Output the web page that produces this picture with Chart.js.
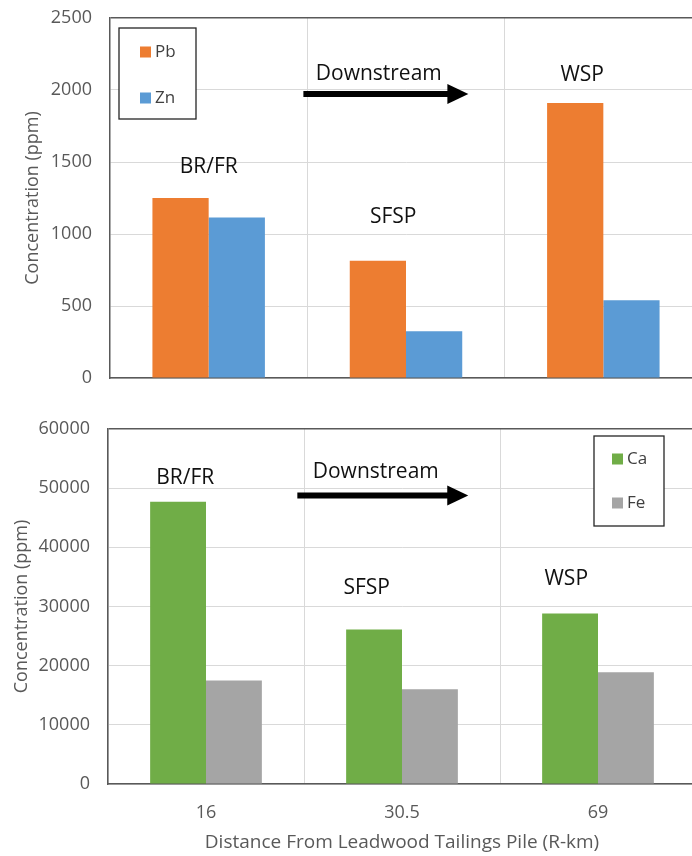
<!DOCTYPE html>
<html>
<head>
<meta charset="utf-8">
<script src="https://cdn.jsdelivr.net/npm/chart.js@4/dist/chart.umd.min.js"></script>
<style>
  html, body { margin: 0; padding: 0; background: #fff; overflow: hidden; width: 692px; height: 856px; }
  .wrap { position: absolute; left: 0; }
</style>
</head>
<body>
<div class="wrap" style="top:0"><canvas id="topChart" width="720" height="390"></canvas></div>
<div class="wrap" style="top:390px"><canvas id="bottomChart" width="720" height="466"></canvas></div>
<script>
// data
const distances = ['16', '30.5', '69'];
const pb = [1250, 815, 1910];
const zn = [1115, 325, 540];
const ca = [47700, 26100, 28800];
const fe = [17500, 16000, 18900];

const FONT = "'Open Sans', sans-serif";
const AXIS_COLOR = '#595959';
const GRID_COLOR = '#d9d9d9';

// text notes, placed in data units (x = category index)
const topNotes = [
    { text: 'BR/FR', x: 0.0, y: 1465 },
    { text: 'SFSP', x: 0.935, y: 1118 },
    { text: 'WSP', x: 1.893, y: 2104 },
    { text: 'Downstream', x: 0.862, y: 2111 }
];
const topArrow = { x1: 0.48, x2: 1.316, y: 1972 };

const bottomNotes = [
    { text: 'BR/FR', x: -0.106, y: 51640 },
    { text: 'Downstream', x: 0.866, y: 52660 },
    { text: 'SFSP', x: 0.82, y: 33170 },
    { text: 'WSP', x: 1.838, y: 34690 }
];
const bottomArrow = { x1: 0.466, x2: 1.338, y: 48760 };

const notesPlugin = {
    id: 'notes',
    afterDatasetsDraw(chart, args, opts) {
        const ctx = chart.ctx;
        const xs = chart.scales.x, ys = chart.scales.y;
        ctx.save();
        ctx.fillStyle = '#111';
        ctx.font = '21px ' + FONT;
        ctx.textAlign = 'center';
        ctx.textBaseline = 'middle';
        opts.notes.forEach(n => {
            ctx.fillText(n.text, xs.getPixelForValue(n.x), ys.getPixelForValue(n.y));
        });
        const a = opts.arrow;
        const x1 = xs.getPixelForValue(a.x1), x2 = xs.getPixelForValue(a.x2), y = ys.getPixelForValue(a.y);
        ctx.strokeStyle = '#000';
        ctx.lineWidth = 6;
        ctx.beginPath();
        ctx.moveTo(x1, y);
        ctx.lineTo(x2 - 18, y);
        ctx.stroke();
        ctx.fillStyle = '#000';
        ctx.beginPath();
        ctx.moveTo(x2 - 21, y - 10);
        ctx.lineTo(x2, y);
        ctx.lineTo(x2 - 21, y + 10);
        ctx.closePath();
        ctx.fill();
        ctx.restore();
    }
};

const boxLegend = {
    id: 'boxLegend',
    afterDraw(chart, args, opts) {
        const ctx = chart.ctx;
        const area = chart.chartArea;
        const bx = opts.fromRight ? area.right - opts.dx - opts.w : area.left + opts.dx;
        const by = area.top + opts.dy;
        ctx.save();
        ctx.strokeStyle = '#262626';
        ctx.lineWidth = 1.3;
        ctx.fillStyle = '#fff';
        ctx.fillRect(bx, by, opts.w, opts.h);
        ctx.strokeRect(bx, by, opts.w, opts.h);
        ctx.font = '17px ' + FONT;
        ctx.textBaseline = 'middle';
        ctx.textAlign = 'left';
        chart.data.datasets.forEach((ds, i) => {
            const cy = by + opts.firstY + i * opts.gap;
            ctx.fillStyle = ds.backgroundColor;
            ctx.fillRect(bx + opts.swatchX, cy - 5.5, 11, 11);
            ctx.fillStyle = '#404040';
            ctx.fillText(ds.label, bx + opts.swatchX + 15, cy);
        });
        ctx.restore();
    }
};

function makeChart(id, labels, sets, yMax, step, pad, yWidth, xHeight, yTitlePad, showX, notes, arrow, legend) {
    return new Chart(document.getElementById(id), {
        type: 'bar',
        data: {
            labels: labels,
            datasets: sets.map(s => ({
                label: s.label,
                data: s.data,
                backgroundColor: s.color,
                borderWidth: 0,
                categoryPercentage: 0.57,
                barPercentage: 1.0
            }))
        },
        options: {
            responsive: false,
            animation: false,
            layout: { padding: pad },
            plugins: {
                legend: { display: false },
                tooltip: { enabled: false },
                notes: { notes: notes, arrow: arrow },
                boxLegend: legend
            },
            scales: {
                x: {
                    grid: { color: GRID_COLOR, drawTicks: false },
                    border: { color: AXIS_COLOR, width: 1.5 },
                    ticks: { display: showX, color: AXIS_COLOR, font: { family: FONT, size: 18 }, padding: 18 },
                    title: {
                        display: showX,
                        text: 'Distance From Leadwood Tailings Pile (R-km)',
                        color: AXIS_COLOR,
                        font: { family: FONT, size: 19 },
                        padding: { top: 0, bottom: 2 }
                    },
                    afterFit(s) { s.height = xHeight; s.paddingLeft = 0; s.paddingRight = 0; }
                },
                y: {
                    min: 0,
                    max: yMax,
                    grid: {
                        color: c => c.tick && c.tick.value === yMax ? AXIS_COLOR : GRID_COLOR,
                        lineWidth: c => c.tick && c.tick.value === yMax ? 1.5 : 1,
                        drawTicks: false
                    },
                    border: { color: AXIS_COLOR, width: 1.5 },
                    ticks: {
                        stepSize: step,
                        color: AXIS_COLOR,
                        font: { family: FONT, size: 18 },
                        padding: 18,
                        callback: v => String(v)
                    },
                    title: {
                        display: true,
                        text: 'Concentration (ppm)',
                        color: AXIS_COLOR,
                        font: { family: FONT, size: 18 },
                        padding: { top: yTitlePad, bottom: 0 }
                    },
                    afterFit(s) { s.width = yWidth; s.paddingTop = 0; s.paddingBottom = 0; }
                }
            }
        },
        plugins: [notesPlugin, boxLegend]
    });
}

makeChart('topChart', distances,
    [{ label: 'Pb', data: pb, color: '#ED7D31' }, { label: 'Zn', data: zn, color: '#5B9BD5' }],
    2500, 500, { top: 18, right: 18, bottom: 12, left: 0 }, 110, 0, 22, false,
    topNotes, topArrow,
    { fromRight: false, dx: 9, dy: 10, w: 77, h: 91, swatchX: 21, firstY: 24, gap: 46 });

makeChart('bottomChart', distances,
    [{ label: 'Ca', data: ca, color: '#70AD47' }, { label: 'Fe', data: fe, color: '#A5A5A5' }],
    60000, 10000, { top: 39, right: 24, bottom: 0, left: 0 }, 108, 72, 11, true,
    bottomNotes, bottomArrow,
    { fromRight: true, dx: 32, dy: 7, w: 70, h: 90, swatchX: 18, firstY: 23, gap: 44 });
</script>
</body>
</html>
